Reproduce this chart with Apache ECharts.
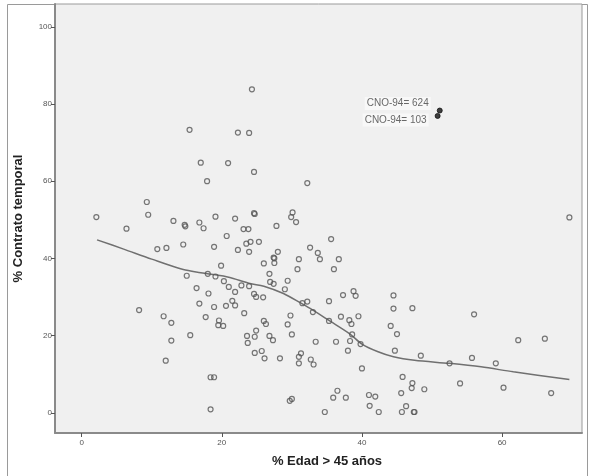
<!DOCTYPE html>
<html>
<head>
<meta charset="utf-8">
<script src="https://cdn.jsdelivr.net/npm/echarts@6/dist/echarts.min.js"></script>
<style>
  html, body { margin: 0; padding: 0; background: #ffffff; }
  #chart { width: 594px; height: 476px; }
</style>
</head>
<body>
<div id="chart"></div>
<script>
// % de trabajadores con edad > 45 años frente a % con contrato temporal, por ocupación
const edad = [
  2.1, 6.4, 8.2, 9.3, 9.5, 10.8, 12.1, 11.7, 12.8, 12.8, 12.0, 13.1, 14.7, 14.8, 14.5, 15.0,
  15.4, 15.5, 16.4, 16.8, 16.8, 17.0, 17.4, 17.7, 17.9, 18.0, 18.1, 18.4, 18.4, 18.9, 18.9, 18.9,
  19.1, 19.1, 19.5, 19.6, 19.9, 20.2, 20.3, 20.6, 20.7, 20.9, 21.0, 21.5, 21.9, 21.9, 21.9, 22.3,
  22.3, 22.8, 23.1, 23.2, 23.5, 23.6, 23.7, 23.8, 23.9, 23.9, 23.9, 24.1, 24.3, 24.6, 24.6, 24.7,
  24.6, 24.9, 24.7, 24.9, 24.7, 25.3, 25.7, 25.9, 26.0, 26.0, 26.1, 26.3, 26.8, 26.8, 26.9, 27.3,
  27.4, 27.4, 27.5, 27.5, 27.8, 28.0, 28.3, 29.0, 29.4, 29.4, 29.7, 30.0, 29.8, 29.9, 30.0, 30.1,
  30.6, 30.8, 31.0, 31.0, 31.3, 31.0, 31.5, 32.2, 32.2, 32.6, 32.7, 33.1, 33.0, 33.4, 33.7, 34.0,
  34.7, 35.3, 35.3, 35.6, 35.9, 36.0, 36.3, 36.5, 36.7, 37.0, 37.3, 37.7, 38.0, 38.2, 38.3, 38.5,
  38.6, 38.8, 39.1, 39.5, 39.8, 40.0, 41.0, 41.1, 41.9, 42.4, 44.1, 44.5, 44.5, 44.7, 45.0, 45.6,
  45.7, 45.8, 46.3, 47.1, 47.2, 47.2, 47.4, 47.5, 48.4, 48.9, 52.5, 54.0, 55.7, 56.0, 59.1, 60.2,
  62.3, 66.1, 67.0, 69.6
];
const temporal = [
  50.7, 47.7, 26.6, 54.6, 51.3, 42.4, 42.7, 25.0, 23.3, 18.7, 13.5, 49.7, 48.7, 48.3, 43.6, 35.5,
  73.3, 20.1, 32.3, 49.3, 28.3, 64.8, 47.8, 24.8, 60.0, 36.0, 30.9, 0.9, 9.2, 9.2, 43.0, 27.4,
  50.8, 35.3, 22.7, 23.9, 38.1, 22.5, 34.1, 27.7, 45.8, 64.7, 32.6, 29.0, 27.8, 31.3, 50.3, 72.6,
  42.2, 33.0, 47.6, 25.8, 43.8, 19.9, 18.1, 47.6, 72.5, 41.7, 32.8, 44.3, 83.8, 62.4, 51.7, 51.5,
  30.8, 30.0, 19.7, 21.3, 15.5, 44.3, 16.0, 29.9, 38.7, 23.8, 14.1, 23.0, 36.0, 19.9, 33.9, 18.8,
  33.4, 40.2, 40.0, 38.8, 48.4, 41.7, 14.1, 32.0, 34.2, 22.9, 3.1, 3.6, 25.2, 50.7, 20.3, 51.9,
  49.4, 37.2, 39.8, 14.5, 15.4, 12.8, 28.4, 28.8, 59.5, 42.8, 13.8, 12.5, 26.1, 18.4, 41.4, 39.8,
  0.2, 28.9, 23.8, 45.0, 3.9, 37.2, 18.4, 5.7, 39.8, 24.9, 30.5, 3.9, 16.1, 24.0, 18.6, 23.0,
  20.3, 31.5, 30.3, 25.0, 17.8, 11.5, 4.6, 1.8, 4.2, 0.2, 22.5, 30.4, 27.0, 16.1, 20.4, 5.1,
  0.2, 9.3, 1.7, 6.4, 7.7, 27.1, 0.2, 0.2, 14.8, 6.1, 12.8, 7.6, 14.2, 25.5, 12.8, 6.5,
  18.8, 19.2, 5.1, 50.6
];

// Casos etiquetados
const etiquetas = ['CNO-94= 624', 'CNO-94= 103'];
const edadEtiq = [51.1, 50.8];
const temporalEtiq = [78.3, 76.9];

// Curva de ajuste (loess)
const ajusteX = [2.2, 6, 10, 14.5, 17, 18.5, 21, 24, 26, 28.8, 31.3, 33, 35.4, 38.3, 40, 42.3, 44.5, 47.5, 52.5, 57, 61.6, 69.6];
const ajusteY = [44.8, 42.4, 39.8, 37.1, 36.3, 35.9, 35.1, 33.5, 32.8, 30.9, 28.4, 26.6, 23.8, 20.4, 17.8, 15.8, 14.5, 13.6, 12.8, 11.9, 10.6, 8.6];

const ticksX = [0, 20, 40, 60];
const ticksY = [0, 20, 40, 60, 80, 100];

const puntos = edad.map((x, i) => [x, temporal[i]]);
const puntosEtiq = edadEtiq.map((x, i) => [x, temporalEtiq[i], etiquetas[i]]);
const ajuste = ajusteX.map((x, i) => [x, ajusteY[i]]);

const chart = echarts.init(document.getElementById('chart'), null, { renderer: 'canvas' });

const axisText = { color: '#555', fontSize: 8, fontFamily: 'Liberation Sans, Arial, sans-serif' };

chart.setOption({
  backgroundColor: '#ffffff',
  animation: false,
  graphic: [
    {
      type: 'rect',
      shape: { x: 7.5, y: 4.5, width: 580, height: 480 },
      style: { fill: 'none', stroke: '#9a9a9a', lineWidth: 1 },
      z: -1
    }
  ],
  grid: { left: 55, top: 4, right: 12, bottom: 43, show: true, backgroundColor: '#f0f0f0', borderColor: '#9a9a9a', borderWidth: 1 },
  xAxis: {
    type: 'value',
    min: -3.8,
    max: 71.4,
    name: '% Edad > 45 años',
    nameLocation: 'middle',
    nameGap: 22,
    nameTextStyle: { color: '#222', fontSize: 13, fontWeight: 'bold', fontFamily: 'Liberation Sans, Arial, sans-serif', padding: [0, 0, 0, 17] },
    axisLine: { show: true, onZero: false, lineStyle: { color: '#8a8a8a', width: 2 } },
    axisTick: { show: true, customValues: ticksX, length: 4, lineStyle: { color: '#555', width: 1 } },
    axisLabel: Object.assign({ customValues: ticksX, margin: 6 }, axisText),
    splitLine: { show: false }
  },
  yAxis: {
    type: 'value',
    min: -5.24,
    max: 105.9,
    name: '% Contrato temporal',
    nameLocation: 'middle',
    nameGap: 30,
    nameTextStyle: { color: '#222', fontSize: 13, fontWeight: 'bold', fontFamily: 'Liberation Sans, Arial, sans-serif' },
    axisLine: { show: true, onZero: false, lineStyle: { color: '#8a8a8a', width: 2 } },
    axisTick: { show: true, customValues: ticksY, length: 4, lineStyle: { color: '#555', width: 1 } },
    axisLabel: Object.assign({ customValues: ticksY, margin: 3 }, axisText),
    splitLine: { show: false }
  },
  series: [
    {
      type: 'line',
      data: ajuste,
      smooth: 0.3,
      symbol: 'none',
      lineStyle: { color: '#707070', width: 1.5 },
      z: 2
    },
    {
      type: 'scatter',
      data: puntos,
      symbol: 'circle',
      symbolSize: 5,
      itemStyle: { color: 'rgba(0,0,0,0)', borderColor: '#555', borderWidth: 1.2 },
      z: 3
    },
    {
      type: 'scatter',
      data: puntosEtiq,
      symbol: 'circle',
      symbolSize: 5,
      itemStyle: { color: '#111', borderColor: '#111', borderWidth: 1 },
      label: {
        show: true,
        position: 'left',
        formatter: p => p.value[2],
        color: '#444',
        fontSize: 10,
        fontFamily: 'Liberation Sans, Arial, sans-serif',
        backgroundColor: '#fafafa',
        padding: [2, 2, 1, 2],
        distance: 6
      },
      labelLayout: function (params) {
        return params.dataIndex === 0 ? { dy: -7 } : { dy: 4 };
      },
      z: 4
    }
  ]
});
</script>
</body>
</html>
